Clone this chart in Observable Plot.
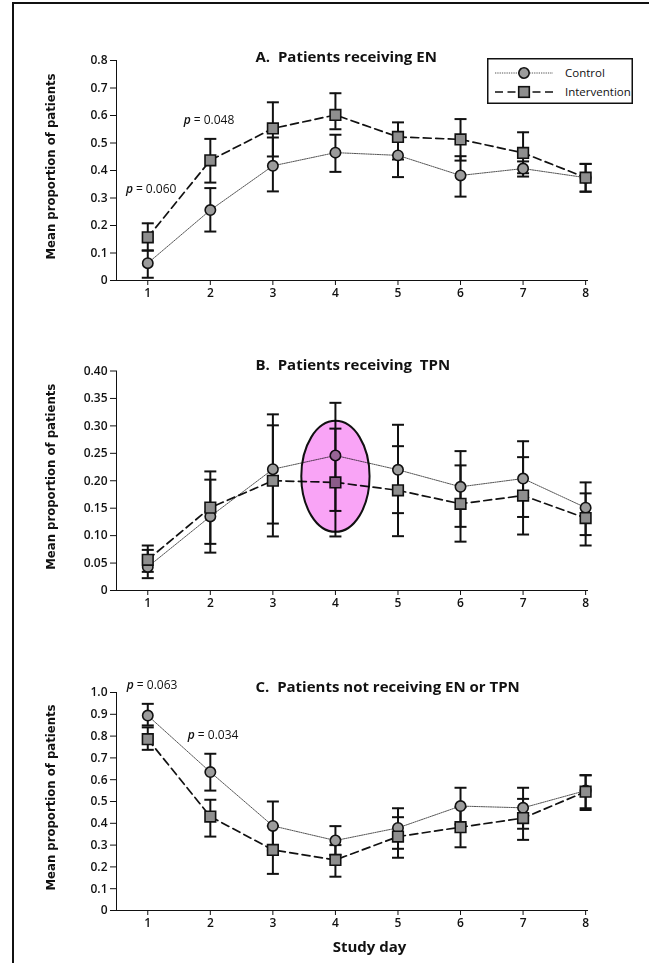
<!DOCTYPE html>
<html><head><meta charset="utf-8">
<script src="https://cdn.jsdelivr.net/npm/d3@7"></script>
<script src="https://cdn.jsdelivr.net/npm/@observablehq/plot@0.6"></script>
<style>
body{margin:0;background:#fff;}
#root{position:relative;width:649px;height:963px;overflow:hidden;background:#fff;}
.panel{position:absolute;left:0;}
#frame{position:absolute;left:12px;top:2px;width:660px;height:990px;border-left:2.5px solid #111;border-top:2px solid #111;z-index:5;pointer-events:none;}
#legend{position:absolute;left:487px;top:58px;}
</style></head><body><div id="root"><div id="frame"></div></div>
<script>
const days = [1,2,3,4,5,6,7,8];
const groups = ["Control","Intervention"];

// Panel A: Patients receiving EN
const enCtrl   = [0.063,0.256,0.417,0.465,0.455,0.382,0.407,0.374];
const enCtrlLo = [0.010,0.178,0.324,0.395,0.376,0.305,0.378,0.323];
const enCtrlHi = [0.109,0.336,0.520,0.530,0.530,0.452,0.433,0.424];
const enInt    = [0.157,0.437,0.553,0.602,0.522,0.513,0.464,0.374];
const enIntLo  = [0.109,0.356,0.451,0.550,0.440,0.436,0.390,0.323];
const enIntHi  = [0.208,0.515,0.648,0.681,0.575,0.587,0.539,0.424];

// Panel B: Patients receiving TPN
const tpnCtrl   = [0.043,0.135,0.221,0.246,0.220,0.189,0.204,0.151];
const tpnCtrlLo = [0.0225,0.069,0.122,0.145,0.141,0.116,0.134,0.101];
const tpnCtrlHi = [0.074,0.202,0.321,0.342,0.302,0.254,0.272,0.197];
const tpnInt    = [0.056,0.151,0.200,0.197,0.1825,0.158,0.173,0.132];
const tpnIntLo  = [0.034,0.085,0.0985,0.0985,0.099,0.089,0.102,0.082];
const tpnIntHi  = [0.082,0.217,0.301,0.295,0.263,0.228,0.243,0.177];

// Panel C: Patients not receiving EN or TPN
const noneCtrl   = [0.894,0.635,0.388,0.321,0.379,0.479,0.471,0.550];
const noneCtrlLo = [0.849,0.550,0.276,0.255,0.283,0.395,0.375,0.469];
const noneCtrlHi = [0.948,0.719,0.500,0.387,0.469,0.563,0.563,0.621];
const noneInt    = [0.786,0.431,0.278,0.232,0.339,0.382,0.424,0.545];
const noneIntLo  = [0.737,0.339,0.168,0.155,0.242,0.290,0.324,0.461];
const noneIntHi  = [0.840,0.508,0.388,0.300,0.428,0.474,0.512,0.620];

const yTicksA = [0,0.1,0.2,0.3,0.4,0.5,0.6,0.7,0.8];
const yTicksB = [0,0.05,0.10,0.15,0.20,0.25,0.30,0.35,0.40];
const yTicksC = [0,0.1,0.2,0.3,0.4,0.5,0.6,0.7,0.8,0.9,1.0];

const titles = ["A.  Patients receiving EN", "B.  Patients receiving  TPN", "C.  Patients not receiving EN or TPN"];
const yLabel = "Mean proportion of patients";
const xLabel = "Study day";

const pLabelsA = [{day:0.65, value:0.331, p:"0.060"},{day:1.575, value:0.582, p:"0.048"}];
const pLabelsC = [{day:0.665, value:1.032, p:"0.063"},{day:1.64, value:0.803, p:"0.034"}];
const highlightB = [{day:4, value:0.208}];

const FONT = "'Open Sans', 'DejaVu Sans', sans-serif";
const COND = "'Liberation Sans Narrow', 'DejaVu Sans Condensed', 'Roboto Condensed', sans-serif";

const capSymbol = {draw(ctx, size){ const w = Math.sqrt(size/Math.PI); ctx.moveTo(-w,0); ctx.lineTo(w,0); }};
const ellipseSymbol = {draw(ctx, size){
  const ry = Math.sqrt(size/Math.PI), rx = ry*0.615, k = 0.5523;
  ctx.moveTo(rx,0);
  ctx.bezierCurveTo(rx, k*ry, k*rx, ry, 0, ry);
  ctx.bezierCurveTo(-k*rx, ry, -rx, k*ry, -rx, 0);
  ctx.bezierCurveTo(-rx, -k*ry, -k*rx, -ry, 0, -ry);
  ctx.bezierCurveTo(k*rx, -ry, rx, -k*ry, rx, 0);
  ctx.closePath();
}};

function rows(mean, lo, hi, group){
  return days.map((d,i)=>({day:d, group, mean:mean[i], lo:lo[i], hi:hi[i]}));
}

function panel(o){
  const ctrl = rows(o.c, o.cLo, o.cHi, groups[0]);
  const int = rows(o.i, o.iLo, o.iHi, groups[1]);
  const all = ctrl.concat(int);
  const marks = [
    Plot.line(ctrl, {x:"day", y:"mean", stroke:"#555", strokeWidth:1, strokeDasharray:"1.3,1"}),
    Plot.line(int, {x:"day", y:"mean", stroke:"#111", strokeWidth:1.7, strokeDasharray:"8,4.5"}),
    Plot.ruleX(all, {x:"day", y1:"lo", y2:"hi", stroke:"#111", strokeWidth:2}),
    Plot.dot(all, {x:"day", y:"lo", symbol:capSymbol, r:6, stroke:"#111", strokeWidth:2, fill:"none"}),
    Plot.dot(all, {x:"day", y:"hi", symbol:capSymbol, r:6, stroke:"#111", strokeWidth:2, fill:"none"}),
    Plot.dot(ctrl, {x:"day", y:"mean", symbol:"circle", r:5.2, fill:"#9c9c9c", stroke:"#111", strokeWidth:1.6}),
    Plot.dot(int, {x:"day", y:"mean", symbol:"square", r:6, fill:"#8e8e8e", stroke:"#111", strokeWidth:1.6}),
    Plot.text([o.title], {text:d=>d, frameAnchor:"top-left", dx:139, dy:o.titleDy, textAnchor:"start", lineAnchor:"middle", fontSize:15, fontWeight:700, fontFamily:FONT, fill:"#111"}),
    Plot.text([yLabel], {text:d=>d, frameAnchor:"left", dx:-66, dy:-4, rotate:-90, textAnchor:"middle", lineAnchor:"middle", fontSize:13, fontWeight:700, fontFamily:COND, fill:"#111"})
  ];
  if (o.pLabels) {
    marks.push(Plot.text(o.pLabels, {x:"day", y:"value", text:d=>"p", textAnchor:"start", lineAnchor:"middle", fontStyle:"italic", fontSize:12, fontWeight:600, fontFamily:FONT, fill:"#111"}));
    marks.push(Plot.text(o.pLabels, {x:"day", y:"value", text:d=>"= " + d.p, dx:10, textAnchor:"start", lineAnchor:"middle", fontSize:12, fontWeight:500, fontFamily:FONT, fill:"#111"}));
  }
  if (o.highlight) {
    marks.push(Plot.dot(o.highlight, {x:"day", y:"value", symbol:ellipseSymbol, r:55.5, fill:"#f9a4f6", stroke:"#111", strokeWidth:2, mixBlendMode:"multiply"}));
  }
  if (o.xLabel) {
    marks.push(Plot.text([xLabel], {text:d=>d, frameAnchor:"bottom", dx:17.5, dy:37, textAnchor:"middle", lineAnchor:"middle", fontSize:15, fontWeight:700, fontFamily:FONT, fill:"#111"}));
  }
  const plot = Plot.plot({
    width:649, height:o.height,
    marginLeft:116, marginRight:62, marginTop:o.marginTop, marginBottom:o.marginBottom,
    style:{fontFamily:FONT, fontSize:"12px", fontWeight:600, background:"transparent", color:"#111", overflow:"visible"},
    x:{domain:[0.5,8.03], ticks:days, tickFormat:d=>String(d), tickSize:5, tickPadding:3, line:true, label:null},
    y:{domain:o.yDomain, ticks:o.yTicks, tickFormat:o.yFmt, tickSize:6, tickPadding:3, line:true, label:null},
    marks
  });
  plot.classList.add("panel");
  plot.style.top = o.top + "px";
  plot.style.position = "absolute";
  document.getElementById("root").appendChild(plot);
}

panel({top:0, height:310, marginTop:60, marginBottom:30, yDomain:[0,0.8], yTicks:yTicksA,
  yFmt:d=>d===0?"0":d.toFixed(1), c:enCtrl, cLo:enCtrlLo, cHi:enCtrlHi, i:enInt, iLo:enIntLo, iHi:enIntHi,
  title:titles[0], titleDy:-3, pLabels:pLabelsA});
panel({top:320, height:300, marginTop:50.5, marginBottom:30, yDomain:[0,0.4], yTicks:yTicksB,
  yFmt:d=>d===0?"0":d.toFixed(2), c:tpnCtrl, cLo:tpnCtrlLo, cHi:tpnCtrlHi, i:tpnInt, iLo:tpnIntLo, iHi:tpnIntHi,
  title:titles[1], titleDy:-5.5, highlight:highlightB});
panel({top:630, height:333, marginTop:62, marginBottom:53, yDomain:[0,1], yTicks:yTicksC,
  yFmt:d=>d===0?"0":d.toFixed(1), c:noneCtrl, cLo:noneCtrlLo, cHi:noneCtrlHi, i:noneInt, iLo:noneIntLo, iHi:noneIntHi,
  title:titles[2], titleDy:-5, pLabels:pLabelsC, xLabel:true});

// Legend
const lw = 146, lh = 46;
const leg = d3.select("#root").append("svg").attr("id","legend").attr("width",lw).attr("height",lh);
leg.append("rect").attr("x",0.75).attr("y",0.75).attr("width",lw-1.5).attr("height",lh-1.5).attr("fill","#fff").attr("stroke","#111").attr("stroke-width",1.5);
const legendItems = [
  {label:groups[0], y:15, dash:"1.3,1", sw:1, stroke:"#555", sym:"circle"},
  {label:groups[1], y:34, dash:"8,4.5", sw:1.7, stroke:"#111", sym:"square"}
];
legendItems.forEach(it=>{
  leg.append("line").attr("x1",8).attr("x2",66).attr("y1",it.y).attr("y2",it.y).attr("stroke",it.stroke).attr("stroke-width",it.sw).attr("stroke-dasharray",it.dash);
  if (it.sym==="circle") leg.append("circle").attr("cx",37).attr("cy",it.y).attr("r",5.2).attr("fill","#9c9c9c").attr("stroke","#111").attr("stroke-width",1.6);
  else leg.append("rect").attr("x",37-5.3).attr("y",it.y-5.3).attr("width",10.6).attr("height",10.6).attr("fill","#8e8e8e").attr("stroke","#111").attr("stroke-width",1.6);
  leg.append("text").attr("x",78).attr("y",it.y).attr("dy","0.35em").attr("font-family",FONT).attr("font-size",11.5).attr("fill","#111").text(it.label);
});
</script></body></html>
